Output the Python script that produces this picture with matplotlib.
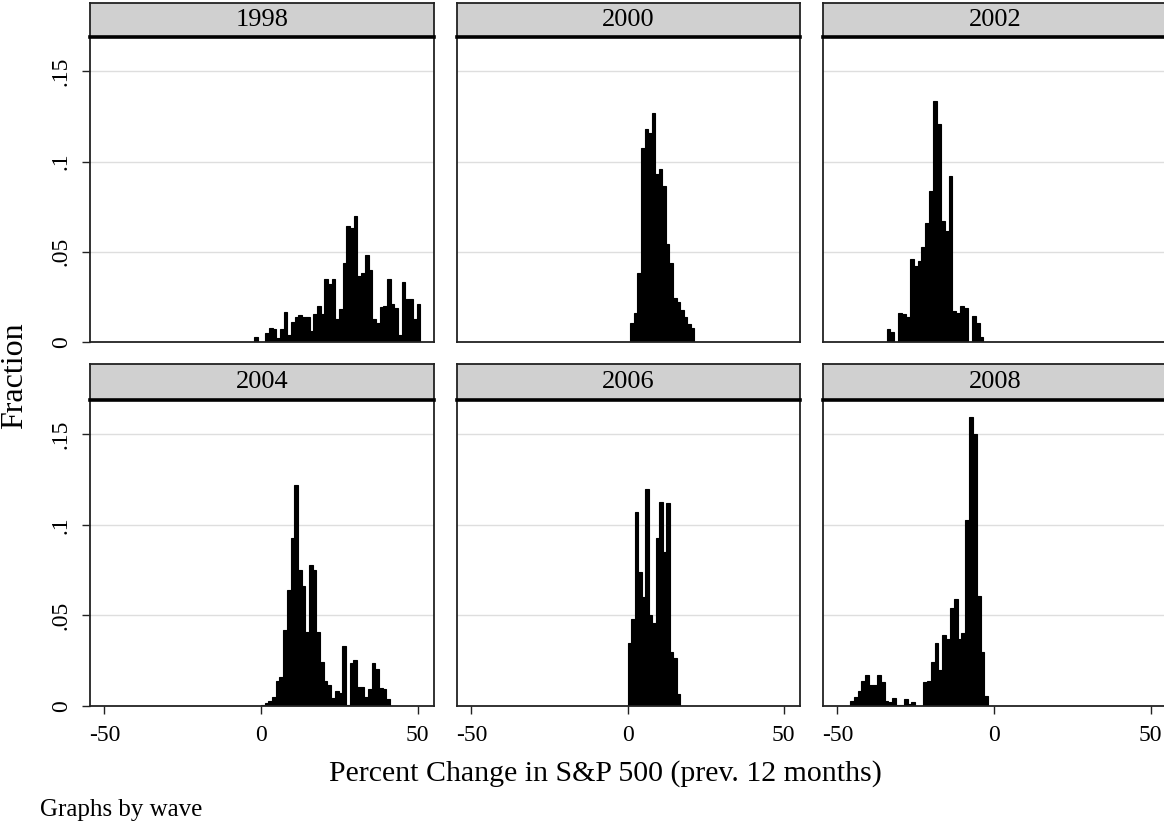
import matplotlib
matplotlib.use("Agg")
import matplotlib.pyplot as plt
import numpy as np

plt.rcParams['font.family'] = ['Liberation Serif', 'DejaVu Serif']

# ---- data ----
waves = ["1998", "2000", "2002", "2004", "2006", "2008"]

# first / last bin edge of each histogram (percent change)
start_1998, end_1998 = -2.2, 50.8
start_2000, end_2000 = 0.86, 21.4
start_2002, end_2002 = -34.3, -3.4
start_2004, end_2004 = 0.0, 41.2
start_2006, end_2006 = 0.1, 16.9
start_2008, end_2008 = -46.0, -1.83

frac_1998 = [0.003, 0, 0, 0.005, 0.008, 0.007, 0.002, 0.007, 0.0167, 0.004,
             0.011, 0.0137, 0.015, 0.0137, 0.0137, 0.006, 0.0157, 0.020, 0.0157,
             0.035, 0.032, 0.035, 0.013, 0.0185, 0.044, 0.064, 0.063, 0.0696,
             0.0367, 0.038, 0.048, 0.040, 0.0126, 0.0107, 0.0196, 0.020, 0.035,
             0.021, 0.0187, 0.004, 0.033, 0.024, 0.024, 0.0126, 0.021]
frac_2000 = [0.0104, 0.016, 0.0385, 0.1076, 0.118, 0.116, 0.1267, 0.0933,
             0.0956, 0.0867, 0.0544, 0.0437, 0.0243, 0.0219, 0.0178, 0.014,
             0.010, 0.008]
frac_2002 = [0.007, 0.0057, 0, 0.016, 0.0156, 0.0137, 0.046, 0.042, 0.045,
             0.0524, 0.066, 0.0835, 0.1335, 0.1206, 0.0669, 0.0613, 0.092,
             0.0174, 0.0163, 0.020, 0.0187, 0, 0.0144, 0.0104, 0.003]
frac_2004 = [0.0005, 0.0015, 0.003, 0.005, 0.014, 0.0158, 0.042, 0.064, 0.093,
             0.122, 0.075, 0.066, 0.0406, 0.078, 0.075, 0.041, 0.0244, 0.014,
             0.0116, 0.0042, 0.0085, 0.0074, 0.033, 0.0005, 0.0235, 0.0254,
             0.0107, 0.0103, 0.005, 0.0092, 0.0235, 0.0202, 0.0097, 0.0092,
             0.004]
frac_2006 = [0.0346, 0.0483, 0.107, 0.074, 0.060, 0.120, 0.050, 0.046, 0.093,
             0.1127, 0.085, 0.1123, 0.030, 0.0267, 0.0066]
frac_2008 = [0.0025, 0.005, 0.0085, 0.014, 0.017, 0.0117, 0.0117, 0.017,
             0.0135, 0.0025, 0.002, 0.0045, 0.0005, 0.0005, 0.004, 0.001,
             0.002, 0, 0, 0.013, 0.014, 0.0245, 0.035, 0.020, 0.0394, 0.0372,
             0.0544, 0.059, 0.0372, 0.0405, 0.1027, 0.1597, 0.150, 0.061,
             0.030, 0.0057]

starts = [start_1998, start_2000, start_2002, start_2004, start_2006, start_2008]
ends = [end_1998, end_2000, end_2002, end_2004, end_2006, end_2008]
fracs = [frac_1998, frac_2000, frac_2002, frac_2004, frac_2006, frac_2008]

xticks = [-50, 0, 50]
xtick_labels = ["-50", "0", "50"]
yticks = [0, 0.05, 0.1, 0.15]
ytick_labels = ["0", ".05", ".1", ".15"]

x_title = "Percent Change in S&P 500 (prev. 12 months)"
y_title = "Fraction"
note = "Graphs by wave"

# ---- layout ----
W, H = 1164, 825
fig = plt.figure(figsize=(W / 100, H / 100), dpi=100)


def rect(x0, y0, x1, y1):
    return [x0 / W, 1 - y1 / H, (x1 - x0) / W, (y1 - y0) / H]


cols = [(90, 434), (457, 800), (823, 1167)]
rows = [((3, 37), (37, 342)), ((364, 400), (400, 706))]

for i, wave in enumerate(waves):
    r, c = divmod(i, 3)
    (sx0, sx1) = cols[c]
    (st0, st1), (py0, py1) = rows[r]

    # strip
    sax = fig.add_axes(rect(sx0, st0, sx1, st1))
    sax.set_facecolor('#d0d0d0')
    sax.set_xticks([]); sax.set_yticks([])
    for sp in sax.spines.values():
        sp.set_linewidth(1.3); sp.set_color('#222222')
    sax.text(0.5, 0.5, wave, ha='center', va='center', fontsize=19,
             transform=sax.transAxes)

    # plot
    ax = fig.add_axes(rect(sx0, py0, sx1, py1))
    h = np.array(fracs[i])
    edges = np.linspace(starts[i], ends[i], len(h) + 1)
    ax.bar(edges[:-1], h, width=np.diff(edges), align='edge', color='black',
           edgecolor='black', linewidth=0.8)
    ax.set_xlim(-54.6, 55.2)
    ax.set_ylim(0, 0.169)
    for y in yticks[1:]:
        ax.axhline(y, color='#dedede', lw=1.0, zorder=0)
    for sp in ax.spines.values():
        sp.set_linewidth(1.3); sp.set_color('#222222')
    ax.spines['top'].set_linewidth(2.6)
    ax.spines['top'].set_color('black')

    ax.set_yticks(yticks)
    ax.set_xticks(xticks)
    ax.tick_params(axis='both', length=6, width=1.0, color='#222222',
                   labelsize=17)
    ax.tick_params(axis='y', pad=7)
    ax.tick_params(axis='x', pad=8)
    if c == 0:
        ax.set_yticklabels(ytick_labels, rotation=90, va='center')
    else:
        ax.tick_params(axis='y', length=0, labelleft=False)
    if r == 1:
        ax.set_xticklabels(xtick_labels)
    else:
        ax.tick_params(axis='x', length=0, labelbottom=False)

fig.text(605 / W, 1 - 774 / H, x_title, ha='center', va='center', fontsize=21.5)
fig.text(15 / W, 1 - 376 / H, y_title, ha='center', va='center', fontsize=23,
         rotation=90)
fig.text(40 / W, 1 - 810 / H, note, ha='left', va='center', fontsize=18)

fig.savefig("out.png", dpi=100, facecolor='white')
